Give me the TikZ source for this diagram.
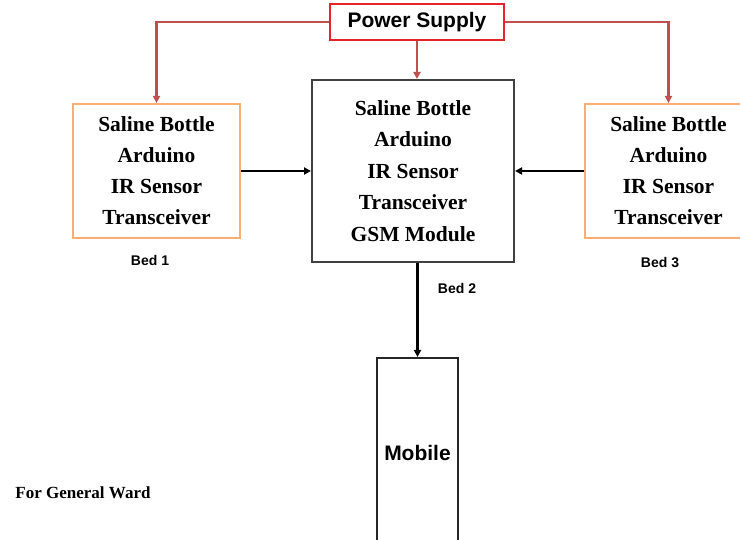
\documentclass[tikz,border=0pt]{standalone}
\usepackage{fontspec}
\setmainfont{Liberation Serif}
\setsansfont{Liberation Sans}
\usepackage{xcolor}
\usepackage{tikz}
\usetikzlibrary{arrows.meta,positioning,calc}
\definecolor{wred}{HTML}{E8232B}
\definecolor{wline}{HTML}{C0504D}
\definecolor{worange}{HTML}{F8AE74}
\definecolor{wgray}{HTML}{404040}
\tikzset{
  >={Triangle[length=7pt,width=7pt]},
  wpower/.style={draw=wred, line width=2pt, minimum width=174pt, minimum height=36pt,
                 inner sep=0pt, font=\sffamily\bfseries\fontsize{21}{24}\selectfont},
  wbed/.style={draw=worange, line width=2pt, minimum width=167pt, minimum height=134pt,
               inner sep=0pt, align=center, font=\bfseries\fontsize{21.5}{31}\selectfont},
  whub/.style={draw=wgray, line width=2pt, minimum width=202pt, minimum height=182pt,
               inner sep=0pt, align=center, font=\bfseries\fontsize{21.5}{31.5}\selectfont},
  wmob/.style={draw=black!85, line width=2pt, minimum width=81pt, minimum height=190pt,
               inner sep=0pt, font=\sffamily\bfseries\fontsize{21}{24}\selectfont},
  wlbl/.style={font=\sffamily\bfseries\fontsize{14}{16}\selectfont},
  wsupply/.style={->, wline, line width=2.8pt},
  wdata/.style={->, black, line width=2.8pt},
}
\begin{document}
\begin{tikzpicture}[x=1pt,y=-1pt]

  \useasboundingbox (0,0) rectangle (740,540);
  \clip (0,0) rectangle (740,540);

  % blocos
  \node[wpower] (power) at (417,22) {Power Supply};
  \node[whub] (hub) at (413,171) {Saline Bottle\\Arduino\\IR Sensor\\Transceiver\\GSM Module};
  \node[wbed] (bedone) at (156.5,171) {Saline Bottle\\Arduino\\IR Sensor\\Transceiver};
  \node[wbed] (bedthree) at (668.5,171) {Saline Bottle\\Arduino\\IR Sensor\\Transceiver};
  \node[wmob] (mobile) at (417.5,453) {Mobile};

  % rotulos
  \node[wlbl] (lblone) at (150,260) {Bed 1};
  \node[wlbl] (lbltwo) at (457,288) {Bed 2};
  \node[wlbl] (lblthree) at (660,263) {Bed 3};
  \node[font=\bfseries\fontsize{17}{19}\selectfont] (ward) at (83,493) {For General Ward};

  % alimentacao
  \draw[wsupply] (power.west) -| (bedone.north);
  \draw[wsupply] (power.east) -| (bedthree.north);
  \draw[wsupply] (power.south -| hub.north) ++(4,0) coordinate (ps) -- (ps |- hub.north);

  % dados
  \draw[wdata] (bedone.east) -- (hub.west);
  \draw[wdata] (bedthree.west) -- (hub.east);
  \draw[wdata] (mobile.north |- hub.south) -- (mobile.north);

\end{tikzpicture}
\end{document}
